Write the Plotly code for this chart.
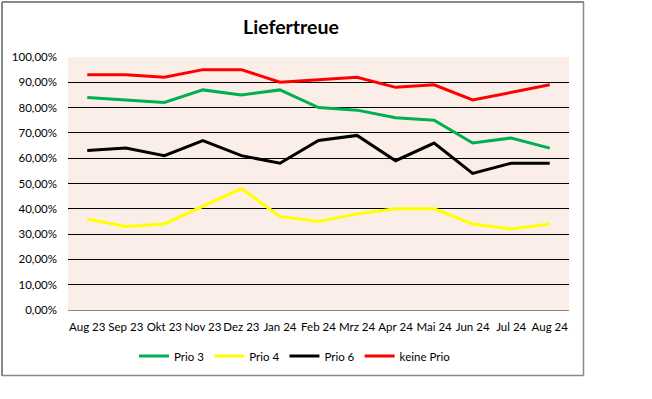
import plotly.graph_objects as go

months = ["Aug 23", "Sep 23", "Okt 23", "Nov 23", "Dez 23", "Jan 24", "Feb 24",
          "Mrz 24", "Apr 24", "Mai 24", "Jun 24", "Jul 24", "Aug 24"]
prio3 = [0.84, 0.83, 0.82, 0.87, 0.85, 0.87, 0.80, 0.79, 0.76, 0.75, 0.66, 0.68, 0.64]
prio4 = [0.36, 0.33, 0.34, 0.41, 0.48, 0.37, 0.35, 0.38, 0.40, 0.40, 0.34, 0.32, 0.34]
prio6 = [0.63, 0.64, 0.61, 0.67, 0.61, 0.58, 0.67, 0.69, 0.59, 0.66, 0.54, 0.58, 0.58]
keine = [0.93, 0.93, 0.92, 0.95, 0.95, 0.90, 0.91, 0.92, 0.88, 0.89, 0.83, 0.86, 0.89]

series = [("Prio 3", prio3, "#00B050"), ("Prio 4", prio4, "#FFFF00"),
          ("Prio 6", prio6, "#000000"), ("keine Prio", keine, "#FF0000")]

fig = go.Figure()
for name, vals, col in series:
    fig.add_trace(go.Scatter(x=months, y=vals, name=name, mode="lines",
                             line=dict(color=col, width=3)))

W, H = 652, 399
L, R, T, B = 68, 569, 57, 310
pw, ph = R - L, B - T

def px(x):
    return (x - L) / pw

def py(y):
    return (B - y) / ph

fig.update_layout(
    width=W, height=H,
    margin=dict(l=L, r=W - R, t=T, b=H - B, autoexpand=False),
    paper_bgcolor="white",
    plot_bgcolor="#FBEEE8",
    separators=",.",
    font=dict(family="Lato, Carlito, Calibri, sans-serif", size=11.5, color="#000000"),
    title=dict(text="<b>Liefertreue</b>", x=291 / W, xref="container", xanchor="center",
               y=1 - 27 / H, yref="container", yanchor="middle",
               font=dict(size=19.5, color="#000000")),
    showlegend=True,
    legend=dict(orientation="h", x=px(295), xanchor="center", y=py(356), yanchor="middle",
                font=dict(size=11.5), itemwidth=30, bgcolor="rgba(0,0,0,0)"),
    xaxis=dict(type="category", range=[-0.5, 12.5], showgrid=False, zeroline=False,
               showline=True, linecolor="#888888", linewidth=1, ticks="",
               tickangle=0, ticklabelstandoff=6, tickfont=dict(size=11.5)),
    yaxis=dict(range=[0, 1], dtick=0.1, tickformat=".2%", showgrid=True,
               gridcolor="#000000", gridwidth=1, zeroline=False, showline=False,
               ticks="", ticklabelstandoff=10, tickfont=dict(size=11.5)),
    shapes=[
        dict(type="line", xref="paper", yref="paper", x0=px(2), x1=px(584), y0=py(2), y1=py(2),
             line=dict(color="#888888", width=2), layer="above"),
        dict(type="line", xref="paper", yref="paper", x0=px(2), x1=px(2), y0=py(2), y1=py(376),
             line=dict(color="#888888", width=2), layer="above"),
        dict(type="line", xref="paper", yref="paper", x0=px(583.5), x1=px(583.5), y0=py(2), y1=py(375.5),
             line=dict(color="#888888", width=1.5), layer="above"),
        dict(type="line", xref="paper", yref="paper", x0=px(2), x1=px(583.5), y0=py(375.5), y1=py(375.5),
             line=dict(color="#888888", width=1.5), layer="above"),
    ],
)

fig.write_html("out.html", config={"displayModeBar": False},
               post_script="document.body.style.margin='0';document.body.style.overflow='hidden';")
